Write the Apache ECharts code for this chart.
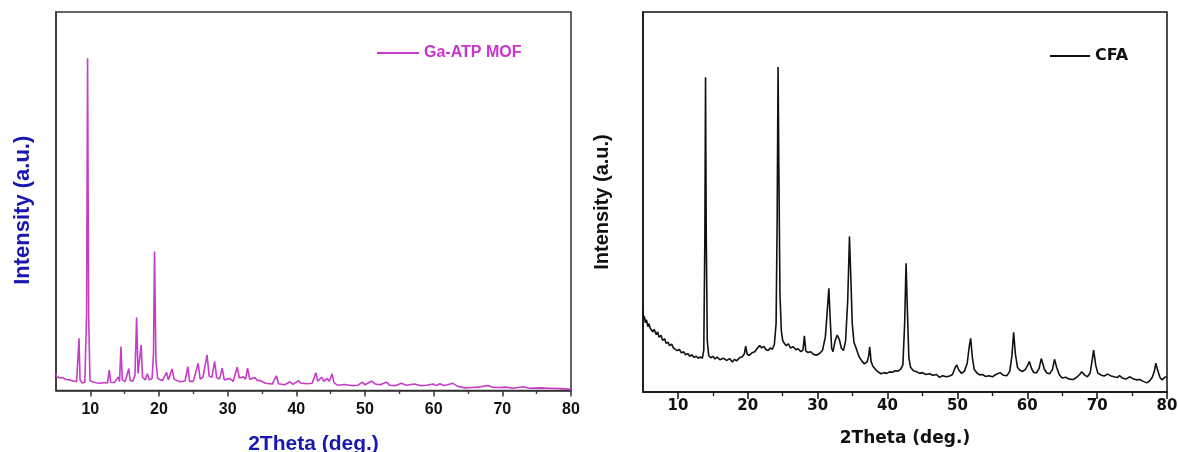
<!DOCTYPE html>
<html>
<head>
<meta charset="utf-8">
<script src="https://cdn.jsdelivr.net/npm/echarts@6/dist/echarts.min.js"></script>
<style>
html,body{margin:0;padding:0;background:#fff;}
#chart{width:1178px;height:452px;}
</style>
</head>
<body>
<div id="chart"></div>
<script>
// ---- Data ----
var mofName = 'Ga-ATP MOF';
var cfaName = 'CFA';
var xMajorTicks = [10, 20, 30, 40, 50, 60, 70, 80];
var xMinorTicks = [15, 25, 35, 45, 55, 65, 75];

var mofTheta = [5.0,5.1,5.5,6.0,6.5,7.0,7.5,8.0,8.2,8.35,8.5,8.8,9.2,9.45,9.6,9.75,9.95,10.5,11.0,11.5,12.0,12.5,12.76,12.95,13.5,14.07,14.25,14.46,14.65,15.1,15.6,15.8,16.2,16.5,16.74,16.95,17.2,17.4,17.6,18.0,18.3,18.6,19.0,19.2,19.35,19.55,19.8,20.5,21.1,21.35,21.9,22.2,23.0,23.8,24.2,24.45,25.0,25.7,26.0,26.4,27.0,27.3,27.7,28.1,28.4,28.8,29.2,29.5,30.3,30.8,31.4,31.7,32.3,32.6,32.9,33.2,34.0,34.3,34.6,35.0,35.5,36.5,37.1,37.4,38.3,39.1,39.5,40.3,40.6,41.5,42.3,42.85,43.1,43.7,44.0,44.5,44.8,45.2,45.5,46.0,47.0,48.0,49.0,49.6,50.0,51.0,51.5,52.2,53.1,53.6,54.5,55.3,56.0,57.2,58.0,59.0,59.9,60.4,60.9,61.5,62.0,62.8,63.5,64.5,65.5,66.5,67.9,68.5,69.5,70.5,71.5,73.0,74.0,75.5,77.0,78.5,80.0];
var mofIntensity = [4.6,3.6,3.4,3.3,2.9,2.8,2.5,2.3,2.6,13.8,2.8,2.0,2.2,20,87.8,20,2.6,2.2,2.0,1.9,2.1,2.0,5.4,2.2,2.1,3.6,2.4,11.6,2.8,2.4,5.8,2.6,2.5,4.0,19.3,4.5,4.0,12.0,3.5,2.8,4.4,2.8,3.2,10,36.7,8,3.2,2.6,4.8,2.8,5.7,3.0,2.3,2.5,6.3,2.4,2.4,7.2,3.0,3.5,9.4,3.8,3.5,7.7,3.4,3.0,5.9,2.8,3.2,2.4,6.2,3.3,3.6,3.0,5.9,3.0,3.4,2.6,2.7,2.4,1.9,1.7,3.9,1.8,1.5,2.3,1.6,2.6,2.0,1.8,1.9,4.7,2.5,3.5,2.4,3.2,2.4,4.4,2.0,1.4,1.6,1.3,1.4,2.2,1.5,2.5,1.7,1.5,2.2,1.4,1.3,1.9,1.4,1.7,1.3,1.4,1.7,1.3,1.8,1.3,1.5,1.9,1.1,0.7,0.8,0.9,1.3,0.9,0.8,0.9,0.6,1.0,0.6,0.7,0.6,0.5,0.3];

var cfaTheta = [5.0,5.1,5.2,5.35,5.5,5.7,5.85,6.0,6.2,6.4,6.6,6.9,7.1,7.3,7.6,7.8,8.1,8.3,8.6,8.8,9.1,9.35,9.6,9.9,10.2,10.5,10.8,11.1,11.4,11.7,12.0,12.3,12.6,12.9,13.2,13.5,13.7,13.85,13.95,14.05,14.2,14.4,14.7,15.0,15.3,15.6,16.0,16.5,17.0,17.4,17.8,18.1,18.4,18.8,19.2,19.5,19.7,19.9,20.2,20.6,21.0,21.3,21.7,22.0,22.3,22.6,22.9,23.2,23.5,23.8,24.05,24.2,24.33,24.45,24.6,24.8,25.0,25.2,25.5,25.8,26.1,26.5,26.9,27.2,27.6,27.9,28.1,28.3,28.6,29.0,29.4,29.9,30.3,30.7,31.1,31.4,31.6,31.8,32.0,32.2,32.5,32.8,33.1,33.4,33.7,34.0,34.3,34.55,34.75,34.95,35.2,35.5,35.9,36.3,36.7,37.1,37.3,37.45,37.65,37.9,38.3,38.7,39.1,39.5,39.9,40.3,40.7,41.1,41.5,41.9,42.2,42.45,42.65,42.85,43.05,43.3,43.7,44.1,44.6,45.0,45.5,46.0,46.5,47.0,47.4,47.9,48.4,48.9,49.3,49.7,49.9,50.2,50.6,51.0,51.4,51.7,51.9,52.15,52.4,52.8,53.2,53.6,54.0,54.5,55.0,55.5,56.1,56.6,57.1,57.5,57.8,58.05,58.3,58.6,58.9,59.3,59.7,60.0,60.3,60.6,60.9,61.3,61.7,62.0,62.15,62.45,62.8,63.2,63.6,63.9,64.2,64.6,65.0,65.5,66.0,66.6,67.1,67.5,67.8,68.2,68.6,69.0,69.3,69.5,69.8,70.1,70.5,71.0,71.5,71.9,72.4,72.9,73.2,73.6,74.1,74.7,75.1,75.6,76.1,76.6,77.1,77.5,77.9,78.2,78.4,78.7,79.0,79.3,79.7,80.0];
var cfaIntensity = [21.5,18.8,19.9,18.2,19.0,17.2,18.0,16.9,17.4,15.8,16.5,15.1,15.8,14.4,14.9,13.6,14.0,12.8,13.1,12.2,12.6,11.6,11.9,10.9,11.2,10.3,10.6,9.8,10.1,9.4,9.8,9.1,9.4,8.9,9.2,8.9,11.0,40,82.8,42,13.5,9.6,9.0,9.4,8.7,9.2,8.5,8.9,8.3,8.8,7.9,8.6,8.2,9.0,9.3,10.0,12.1,10.0,9.6,10.3,10.6,11.4,12.2,11.6,12.0,11.2,10.9,11.6,11.2,12.5,18,45,85.5,58,26,16,13.5,12.9,12.2,12.7,11.6,11.9,11.1,11.4,10.6,11.0,14.8,10.8,10.4,10.6,9.9,9.7,10.2,11.0,14.5,22,27.3,19,11.5,10.6,13.5,15.0,13.8,11.5,10.9,13.5,24,40.9,30,18,13,11.6,9.4,8.2,7.4,8.0,9.5,11.9,8.0,6.8,5.9,5.2,4.8,5.1,4.9,5.3,5.2,5.6,5.5,6.0,7.2,18,33.9,21,9,6.5,5.6,5.4,4.9,5.1,4.6,4.8,4.4,4.6,3.9,4.3,4.0,4.2,4.6,6.5,7.1,5.8,4.9,5.5,7.5,12,14.1,9,6,5.0,4.5,4.6,4.1,4.3,4.0,4.6,5.1,4.4,4.3,5.5,9.5,15.7,10,6.5,5.8,5.4,5.9,6.8,8.0,6.2,5.2,5.0,6.2,8.8,9.1,6,5.0,4.8,5.9,8.6,6.5,4.5,3.7,3.9,3.4,3.3,3.9,4.6,5.3,4.5,4.0,5.0,8.5,11.0,7,5.0,4.5,4.2,4.7,4.3,4.0,3.8,4.3,3.7,3.4,4.0,3.5,3.2,3.3,2.8,2.4,2.9,3.9,5.5,7.6,5.5,3.8,3.2,3.9,4.0];

function zip(xs, ys) {
  var out = [];
  for (var i = 0; i < xs.length; i++) out.push([xs[i], ys[i]]);
  return out;
}

var LIB = "'Liberation Sans', Arial, sans-serif";
var DJV = "'DejaVu Sans', sans-serif";
var MOF_COLOR = '#C63CC6';
var BLUE = '#1818B0';

var chart = echarts.init(document.getElementById('chart'), null, {renderer: 'canvas'});

function majorX(gridIndex, font, fontSize, margin, tickLen, name, nameColor, nameSize, nameGap, nameFont, lineColor) {
  return {
    type: 'value', gridIndex: gridIndex, position: 'bottom',
    min: 5, max: 80,
    axisLine: {show: true, lineStyle: {color: lineColor, width: 1.5}},
    axisTick: {show: true, inside: false, length: tickLen, customValues: xMajorTicks, lineStyle: {color: lineColor, width: 1.5}},
    axisLabel: {show: true, customValues: xMajorTicks, margin: margin, color: '#111', fontFamily: font, fontWeight: 'bold', fontSize: fontSize},
    splitLine: {show: false},
    name: name, nameLocation: 'middle', nameGap: nameGap,
    nameTextStyle: {color: nameColor, fontFamily: nameFont, fontWeight: 'bold', fontSize: nameSize}
  };
}
function minorX(gridIndex, tickLen, lineColor) {
  return {
    type: 'value', gridIndex: gridIndex, position: 'bottom',
    min: 5, max: 80,
    axisLine: {show: false},
    axisTick: {show: true, inside: false, length: tickLen, customValues: xMinorTicks, lineStyle: {color: lineColor, width: 1.3}},
    axisLabel: {show: false},
    splitLine: {show: false}
  };
}
function plainY(gridIndex, name, color, font, size, gap, lineColor, pad) {
  return {
    type: 'value', gridIndex: gridIndex, min: 0, max: 100,
    axisLine: {show: true, lineStyle: {color: lineColor, width: 1.5}},
    axisTick: {show: false}, axisLabel: {show: false}, splitLine: {show: false},
    name: name, nameLocation: 'middle', nameRotate: 90, nameGap: gap,
    nameTextStyle: {color: color, fontFamily: font, fontWeight: 'bold', fontSize: size, padding: pad}
  };
}

var option = {
  backgroundColor: '#ffffff',
  animation: false,
  grid: [
    {left: 56, width: 515, top: 12, bottom: 61.5, show: true, borderColor: '#333', borderWidth: 1.5, backgroundColor: 'transparent', containLabel: false, outerBoundsMode: 'none'},
    {left: 643, width: 524, top: 12, bottom: 60, show: true, borderColor: '#111', borderWidth: 1.5, backgroundColor: 'transparent', containLabel: false, outerBoundsMode: 'none'}
  ],
  xAxis: [
    majorX(0, LIB, 16, 11, 6, '2Theta (deg.)', BLUE, 21, 43, LIB, '#333'),
    minorX(0, 3.5, '#333'),
    majorX(1, DJV, 15, 7, 7, '2Theta (deg.)', '#111', 17, 38, DJV, '#111'),
    minorX(1, 4, '#111')
  ],
  yAxis: [
    plainY(0, 'Intensity (a.u.)', BLUE, LIB, 22, 22, '#333', [0, 18, 0, 0]),
    plainY(1, 'Intensity (a.u.)', '#111', LIB, 20, 31, '#111', [0, 0, 0, 0])
  ],
  legend: [
    {data: [mofName], left: 372, top: 40, itemWidth: 42, itemHeight: 2, icon: 'rect', itemGap: 5,
     textStyle: {color: '#CC33CC', fontFamily: LIB, fontWeight: 'bold', fontSize: 16}},
    {data: [cfaName], left: 1045, top: 43, itemWidth: 40, itemHeight: 2, icon: 'rect',
     textStyle: {color: '#111', fontFamily: DJV, fontWeight: 'bold', fontSize: 16}}
  ],
  series: [
    {name: mofName, type: 'line', xAxisIndex: 0, yAxisIndex: 0, showSymbol: false, symbol: 'none',
     color: MOF_COLOR, lineStyle: {color: MOF_COLOR, width: 1.6}, data: zip(mofTheta, mofIntensity)},
    {name: cfaName, type: 'line', xAxisIndex: 2, yAxisIndex: 1, showSymbol: false, symbol: 'none',
     color: '#111', lineStyle: {color: '#111', width: 1.6}, data: zip(cfaTheta, cfaIntensity)}
  ]
};
chart.setOption(option);
</script>
</body>
</html>
